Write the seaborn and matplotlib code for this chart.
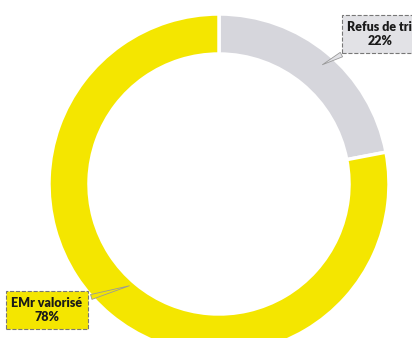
""" Donut chart: EMr valorise vs refus de tri """

import matplotlib
matplotlib.use("Agg")
import matplotlib.pyplot as plt
import seaborn as sns

labels = ["Refus de tri", "EMr valorisé"]
shares = [22, 78]
colors = ["#d6d6dc", "#f4e600"]
box_colors = ["#e2e2e6", "#f4e600"]

sns.set_theme(style="white")
plt.rcParams["font.family"] = ["Lato", "DejaVu Sans"]

fig = plt.figure(figsize=(4.12, 3.38), dpi=100)
ax = fig.add_axes([0, 0, 1, 1])

# ring partly goes off the bottom edge, like the scan
ax.pie(
    shares,
    colors=colors,
    startangle=90,
    counterclock=False,
    radius=170,
    center=(219, 154),
    wedgeprops=dict(width=40, edgecolor="white", linewidth=2.5),
    frame=True,
)
ax.set_xlim(0, 412)
ax.set_ylim(0, 338)
ax.set_aspect("equal")
ax.axis("off")

# callout labels
targets = [(320, 272), (132, 53)]
positions = [(380, 304), (47, 28)]
for lab, val, bc, xy, xytext in zip(labels, shares, box_colors, targets, positions):
    ax.annotate(
        "{}\n{}%".format(lab, val),
        xy=xy,
        xytext=xytext,
        ha="center",
        va="center",
        fontsize=9,
        fontweight="heavy",
        color="#1a1a1a",
        linespacing=1.25,
        bbox=dict(boxstyle="square,pad=0.45", fc=bc, ec="#777777", lw=0.8, ls="--"),
        arrowprops=dict(arrowstyle="wedge,tail_width=0.4", fc=bc, ec="#999999", lw=0.6),
    )

fig.savefig("out.png", dpi=100)
